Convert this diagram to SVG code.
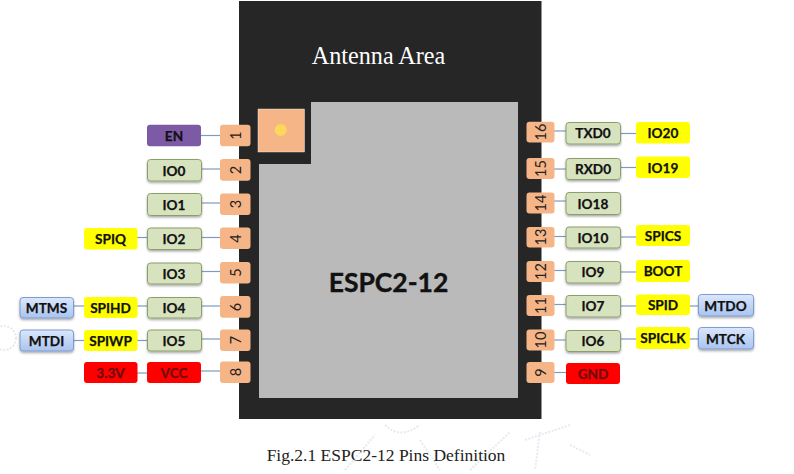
<svg xmlns="http://www.w3.org/2000/svg" width="794" height="474" viewBox="0 0 794 474">
<defs>
<filter id="sh" x="-10%" y="-20%" width="120%" height="150%"><feDropShadow dx="0" dy="1.5" stdDeviation="1" flood-color="#000" flood-opacity="0.35"/></filter>
<linearGradient id="bl" x1="0" y1="0" x2="0" y2="1"><stop offset="0" stop-color="#dbe7fb"/><stop offset="1" stop-color="#a9c4f0"/></linearGradient>
</defs>
<style>
.t{font-family:Lato,"Open Sans","Liberation Sans",sans-serif;font-weight:700;font-size:13.6px;fill:#111;stroke:#111;stroke-width:.25;text-anchor:middle;dominant-baseline:central}
.r{fill:#6e0c0c;stroke:#6e0c0c}
.pn{font-family:Lato,"Open Sans","Liberation Sans",sans-serif;font-size:14.500px;fill:#222;text-anchor:middle;dominant-baseline:central}
.pin{fill:#f6b587}
.g{fill:#d7e3bf;stroke:#8c9f6a;stroke-width:1;filter:url(#sh)}
.y{fill:#ffff00}
.red{fill:#ff0000}
.p{fill:#7d5aa5}
.b{fill:url(#bl);stroke:#7d9ccf;stroke-width:1;filter:url(#sh)}
.c line{stroke:#7f9cc0;stroke-width:1.2}
.cap{font-family:"Liberation Serif",serif;fill:#222}
.wm{fill:none;stroke:#e6eaef;stroke-width:2;stroke-dasharray:2 1.500}
</style>
<rect width="794" height="474" fill="#fff"/>
<g id="watermark">
<circle class="wm" cx="4" cy="338" r="12"/>
<path class="wm" d="M345 470L375 435M385 425Q400 440 420 425M470 470L510 432M525 440L570 425M540 432L535 470M570 445L590 455M420 440L440 470"/>
</g>
<g id="module">
<rect x="239" y="1" width="302.500" height="418" fill="#262626"/>
<path d="M311 102H518V398H259V164H311Z" fill="#bababa"/>
<rect x="258" y="109" width="46.500" height="43" fill="#f6b587" stroke="#fff" stroke-width="0.400"/>
<circle cx="280.700" cy="130" r="6" fill="#fbd75b"/>
<text x="378.500" y="64" font-size="24.200" text-anchor="middle" class="cap" style="fill:#fff">Antenna Area</text>
<text x="388.500" y="282" font-family="Lato,Open Sans,sans-serif" font-weight="700" font-size="26.500" text-anchor="middle" dominant-baseline="central" fill="#111" stroke="#111" stroke-width=".4">ESPC2-12</text>
</g>
<g id="connectors" class="c">
<line x1="201" y1="135.500" x2="220" y2="135.500"/><line x1="201" y1="169" x2="220" y2="169"/><line x1="201" y1="203" x2="220" y2="203"/><line x1="201" y1="237.500" x2="220" y2="237.500"/><line x1="137" y1="237.500" x2="147" y2="237.500"/><line x1="201" y1="271.500" x2="220" y2="271.500"/><line x1="201" y1="306" x2="220" y2="306"/><line x1="137" y1="306" x2="147" y2="306"/><line x1="73" y1="306" x2="84" y2="306"/><line x1="201" y1="339" x2="220" y2="339"/><line x1="137" y1="340.500" x2="147" y2="340.500"/><line x1="73" y1="340.500" x2="84" y2="340.500"/><line x1="201" y1="371" x2="220" y2="371"/><line x1="137" y1="373" x2="147" y2="373"/>
<line x1="554" y1="131" x2="566" y2="131"/><line x1="620" y1="133.500" x2="636" y2="133.500"/><line x1="554" y1="169" x2="566" y2="169"/><line x1="620" y1="167.500" x2="636" y2="167.500"/><line x1="554" y1="201" x2="566" y2="201"/><line x1="554" y1="236.500" x2="566" y2="236.500"/><line x1="620" y1="237" x2="636" y2="237"/><line x1="554" y1="270.500" x2="566" y2="270.500"/><line x1="620" y1="272" x2="636" y2="272"/><line x1="554" y1="304.500" x2="566" y2="304.500"/><line x1="620" y1="306" x2="636" y2="306"/><line x1="690" y1="306" x2="698.500" y2="306"/><line x1="554" y1="340" x2="566" y2="340"/><line x1="620" y1="339" x2="636" y2="339"/><line x1="690" y1="339" x2="698.500" y2="339"/><line x1="554" y1="372.500" x2="566" y2="372.500"/>
</g>
<g id="pin1"><rect class="pin" x="220" y="124.700" width="30.500" height="21.500" rx="3"/><text class="pn" transform="translate(235 135.500) rotate(-90)">1</text></g>
<g id="pin2"><rect class="pin" x="220" y="159" width="30.500" height="21.700" rx="3"/><text class="pn" transform="translate(235 170) rotate(-90)">2</text></g>
<g id="pin3"><rect class="pin" x="220" y="193.500" width="30.500" height="21.500" rx="3"/><text class="pn" transform="translate(235 204) rotate(-90)">3</text></g>
<g id="pin4"><rect class="pin" x="220" y="227.500" width="30.500" height="21.500" rx="3"/><text class="pn" transform="translate(235 238.500) rotate(-90)">4</text></g>
<g id="pin5"><rect class="pin" x="220" y="262" width="30.500" height="21.500" rx="3"/><text class="pn" transform="translate(235 272.500) rotate(-90)">5</text></g>
<g id="pin6"><rect class="pin" x="220" y="296" width="30.500" height="21.700" rx="3"/><text class="pn" transform="translate(235 307) rotate(-90)">6</text></g>
<g id="pin7"><rect class="pin" x="220" y="329.500" width="30.500" height="21.500" rx="3"/><text class="pn" transform="translate(235 340) rotate(-90)">7</text></g>
<g id="pin8"><rect class="pin" x="220" y="361.500" width="30.500" height="21.500" rx="3"/><text class="pn" transform="translate(235 372) rotate(-90)">8</text></g>
<g id="pin16"><rect class="pin" x="526.500" y="121.700" width="28" height="20.800" rx="3"/><text class="pn" transform="translate(540.500 132) rotate(-90)">16</text></g>
<g id="pin15"><rect class="pin" x="526.500" y="158" width="28" height="21" rx="3"/><text class="pn" transform="translate(540.500 168.500) rotate(-90)">15</text></g>
<g id="pin14"><rect class="pin" x="526.500" y="192.500" width="28" height="21" rx="3"/><text class="pn" transform="translate(540.500 203) rotate(-90)">14</text></g>
<g id="pin13"><rect class="pin" x="526.500" y="227" width="28" height="20.500" rx="3"/><text class="pn" transform="translate(540.500 237) rotate(-90)">13</text></g>
<g id="pin12"><rect class="pin" x="526.500" y="261" width="28" height="21" rx="3"/><text class="pn" transform="translate(540.500 271.500) rotate(-90)">12</text></g>
<g id="pin11"><rect class="pin" x="526.500" y="295" width="28" height="21" rx="3"/><text class="pn" transform="translate(540.500 305.500) rotate(-90)">11</text></g>
<g id="pin10"><rect class="pin" x="526.500" y="329.500" width="28" height="21" rx="3"/><text class="pn" transform="translate(540.500 340) rotate(-90)">10</text></g>
<g id="pin9"><rect class="pin" x="526.500" y="362" width="28" height="21" rx="3"/><text class="pn" transform="translate(540.500 372.500) rotate(-90)">9</text></g>
<g id="en"><rect class="p" x="147" y="124.700" width="54" height="21.500" rx="3"/><text class="t" x="174" y="135.500">EN</text></g>
<g id="io0"><rect class="g" x="147.500" y="159.500" width="54" height="21.500" rx="3"/><text class="t" x="174" y="170.500">IO0</text></g>
<g id="io1"><rect class="g" x="147.500" y="193.500" width="54" height="22" rx="3"/><text class="t" x="174" y="204.500">IO1</text></g>
<g id="io2"><rect class="g" x="147.500" y="228" width="54" height="21.500" rx="3"/><text class="t" x="174" y="239">IO2</text></g>
<g id="io3"><rect class="g" x="147.500" y="263" width="54" height="21" rx="3"/><text class="t" x="174" y="273.500">IO3</text></g>
<g id="io4"><rect class="g" x="147.500" y="297.500" width="54" height="20.500" rx="3"/><text class="t" x="174" y="307.500">IO4</text></g>
<g id="io5"><rect class="g" x="147.500" y="330" width="54" height="21" rx="3"/><text class="t" x="174" y="340.500">IO5</text></g>
<g id="vcc"><rect class="red" x="147" y="362" width="54" height="21" rx="3"/><text class="t r" x="174" y="373">VCC</text></g>
<g id="spiq"><rect class="y" x="84" y="228" width="53.500" height="21.500" rx="3"/><text class="t" x="110.500" y="238.500">SPIQ</text></g>
<g id="spihd"><rect class="y" x="84" y="297" width="53.500" height="21" rx="3"/><text class="t" x="110.500" y="307.500">SPIHD</text></g>
<g id="spiwp"><rect class="y" x="84" y="330" width="53.500" height="21" rx="3"/><text class="t" x="110.500" y="340.500">SPIWP</text></g>
<g id="v33"><rect class="red" x="84" y="362" width="53.500" height="21" rx="3"/><text class="t r" x="110.500" y="373">3.3V</text></g>
<g id="mtms"><rect class="b" x="20" y="297.500" width="53.500" height="20.500" rx="3"/><text class="t" x="46.500" y="307.500">MTMS</text></g>
<g id="mtdi"><rect class="b" x="20" y="330" width="53.500" height="21" rx="3"/><text class="t" x="46.500" y="340.500">MTDI</text></g>
<g id="txd0"><rect class="g" x="566" y="122.500" width="54.500" height="21.500" rx="3"/><text class="t" x="593" y="133">TXD0</text></g>
<g id="rxd0"><rect class="g" x="566" y="158.500" width="54.500" height="21" rx="3"/><text class="t" x="593" y="169">RXD0</text></g>
<g id="io18"><rect class="g" x="566" y="192.500" width="54.500" height="22" rx="3"/><text class="t" x="593" y="203.500">IO18</text></g>
<g id="io10"><rect class="g" x="566" y="227" width="54.500" height="21" rx="3"/><text class="t" x="593" y="237.500">IO10</text></g>
<g id="io9"><rect class="g" x="566" y="261.500" width="54.500" height="21.500" rx="3"/><text class="t" x="593" y="272">IO9</text></g>
<g id="io7"><rect class="g" x="566" y="295.500" width="54.500" height="21.500" rx="3"/><text class="t" x="593" y="306">IO7</text></g>
<g id="io6"><rect class="g" x="566" y="330.500" width="54.500" height="21" rx="3"/><text class="t" x="593" y="341">IO6</text></g>
<g id="gnd"><rect class="red" x="566" y="363" width="54" height="21" rx="3"/><text class="t r" x="593" y="374">GND</text></g>
<g id="io20"><rect class="y" x="636" y="122" width="54" height="21.500" rx="3"/><text class="t" x="663" y="133">IO20</text></g>
<g id="io19"><rect class="y" x="636" y="156.500" width="54" height="21.500" rx="3"/><text class="t" x="663" y="167.500">IO19</text></g>
<g id="spics"><rect class="y" x="636" y="225" width="54" height="21" rx="3"/><text class="t" x="663" y="236">SPICS</text></g>
<g id="boot"><rect class="y" x="636" y="260" width="54" height="22" rx="3"/><text class="t" x="663" y="271">BOOT</text></g>
<g id="spid"><rect class="y" x="636" y="294.500" width="54" height="20.500" rx="3"/><text class="t" x="663" y="305">SPID</text></g>
<g id="spiclk"><rect class="y" x="636" y="327" width="54" height="22" rx="3"/><text class="t" x="663" y="338">SPICLK</text></g>
<g id="mtdo"><rect class="b" x="698.500" y="294.500" width="55" height="21.500" rx="3"/><text class="t" x="725.500" y="305.500">MTDO</text></g>
<g id="mtck"><rect class="b" x="698.500" y="327.500" width="55" height="21.500" rx="3"/><text class="t" x="725.500" y="338.500">MTCK</text></g>
<text class="cap" x="386" y="461" font-size="17.500" text-anchor="middle">Fig.2.1 ESPC2-12 Pins Definition</text>
</svg>
